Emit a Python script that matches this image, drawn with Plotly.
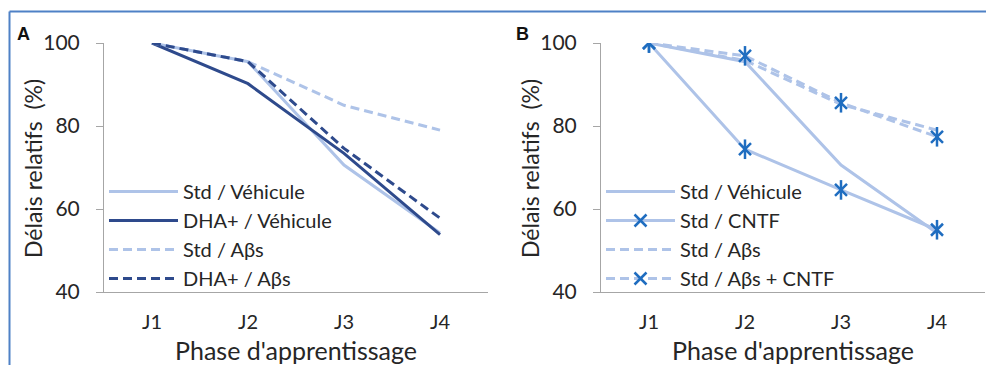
import plotly.graph_objects as go

categories = ["J1", "J2", "J3", "J4"]

# Panel A
a_std_veh = [100, 95.5, 70.6, 54.2]
a_dha_veh = [100, 90.2, 73.4, 53.8]
a_std_abs = [100, 95.5, 85.0, 79.0]
a_dha_abs = [100, 95.5, 74.6, 57.8]

# Panel B
b_std_veh = [100, 95.5, 70.6, 54.2]
b_std_cntf = [100, 74.4, 64.6, 55.0]
b_std_abs = [100, 95.8, 85.2, 79.0]
b_std_abs_cntf = [100, 96.9, 85.6, 77.4]

y_ticks = [40, 60, 80, 100]

LIGHT = "#aec3e8"
DARK = "#2e4a8c"
MARK = "#1f6dc0"
FONT = "Lato, Carlito, Calibri, sans-serif"
TXT = "#262626"
DASH = "9px,5px"
LW = 3

fig = go.Figure()

def line(x, y, name, color, dash, xa, ya, legend):
    fig.add_trace(go.Scatter(x=x, y=y, name=name, mode="lines",
                             line=dict(color=color, width=LW, dash=dash),
                             xaxis=xa, yaxis=ya, legend=legend))

line(categories, a_std_veh, "Std / Véhicule", LIGHT, "solid", "x", "y", "legend")
line(categories, a_dha_veh, "DHA+ / Véhicule", DARK, "solid", "x", "y", "legend")
line(categories, a_std_abs, "Std / Aβs", LIGHT, DASH, "x", "y", "legend")
line(categories, a_dha_abs, "DHA+ / Aβs", DARK, DASH, "x", "y", "legend")

def marked(vals, name, dash, grp):
    fig.add_trace(go.Scatter(x=categories, y=vals, name=name, mode="lines+markers",
                             line=dict(color=LIGHT, width=LW, dash=dash),
                             marker=dict(symbol="x-thin-open", size=12, color=MARK,
                                         line=dict(color=MARK, width=2.5)),
                             legendgroup=grp, xaxis="x2", yaxis="y2", legend="legend2"))
    fig.add_trace(go.Scatter(x=categories, y=vals, mode="markers", showlegend=False,
                             marker=dict(symbol="line-ns-open", size=14, color=MARK,
                                         line=dict(color=MARK, width=2.5)),
                             legendgroup=grp, xaxis="x2", yaxis="y2", hoverinfo="skip"))

line(categories, b_std_veh, "Std / Véhicule", LIGHT, "solid", "x2", "y2", "legend2")
marked(b_std_cntf, "Std / CNTF", "solid", "g1")
line(categories, b_std_abs, "Std / Aβs", LIGHT, DASH, "x2", "y2", "legend2")
marked(b_std_abs_cntf, "Std / Aβs + CNTF", DASH, "g2")

W, H = 986, 365
def px_x(p): return p / W
def px_y(p): return 1 - p / H

xcommon = dict(type="category", range=[-0.5, 3.5], showline=True, linecolor="#a6a6a6",
               linewidth=1, ticks="", showgrid=False, zeroline=False, automargin=False,
               tickfont=dict(family=FONT, size=20, color=TXT), ticklabelstandoff=12)
ycommon = dict(range=[40, 100], tickvals=y_ticks, showline=True, linecolor="#a6a6a6",
               linewidth=1, ticks="outside", ticklen=7, tickcolor="#a6a6a6",
               showgrid=False, zeroline=False, automargin=False,
               tickfont=dict(family=FONT, size=21, color=TXT), ticklabelstandoff=12)

legcommon = dict(font=dict(family=FONT, size=20, color=TXT), bgcolor="rgba(0,0,0,0)",
                 yanchor="top", xanchor="left", tracegroupgap=0, itemwidth=69,
                 traceorder="normal")

fig.update_layout(
    width=W, height=H, margin=dict(l=0, r=0, t=0, b=0, autoexpand=False),
    paper_bgcolor="white", plot_bgcolor="white",
    xaxis=dict(domain=[px_x(104), px_x(488)], anchor="y", **xcommon),
    yaxis=dict(domain=[px_y(292), px_y(43)], anchor="x", **ycommon),
    xaxis2=dict(domain=[px_x(601), px_x(985)], anchor="y2", **xcommon),
    yaxis2=dict(domain=[px_y(292), px_y(43)], anchor="x2", **ycommon),
    legend=dict(x=px_x(104), y=px_y(172), **legcommon),
    legend2=dict(x=px_x(601), y=px_y(172), **legcommon),
    showlegend=True,
)

ann = []
for cx in (296, 793):
    ann.append(dict(text="Phase d'apprentissage", x=px_x(cx), y=px_y(350), xref="paper", yref="paper",
                    showarrow=False, font=dict(family=FONT, size=25, color=TXT),
                    xanchor="center", yanchor="middle"))
for cx in (33, 530):
    ann.append(dict(text="Délais relatifs&nbsp; (%)", x=px_x(cx), y=px_y(169), xref="paper", yref="paper",
                    showarrow=False, textangle=-90, font=dict(family=FONT, size=23, color=TXT),
                    xanchor="center", yanchor="middle"))
for t, cx in (("A", 23), ("B", 522)):
    ann.append(dict(text="<b>%s</b>" % t, x=px_x(cx), y=px_y(34), xref="paper", yref="paper",
                    showarrow=False, font=dict(family="Arial, sans-serif", size=18, color="#111"),
                    xanchor="center", yanchor="middle"))
fig.update_layout(annotations=ann)

fig.add_shape(type="line", xref="paper", yref="paper", x0=px_x(9.5), x1=1, y0=px_y(11.5), y1=px_y(11.5),
              line=dict(color="#4f81c6", width=2))
fig.add_shape(type="line", xref="paper", yref="paper", x0=px_x(9.5), x1=px_x(9.5), y0=0, y1=px_y(11.5),
              line=dict(color="#4f81c6", width=2))

fig.write_html("out.html", config={"displayModeBar": False},
               post_script="document.body.style.margin='0';document.body.style.overflow='hidden';")
